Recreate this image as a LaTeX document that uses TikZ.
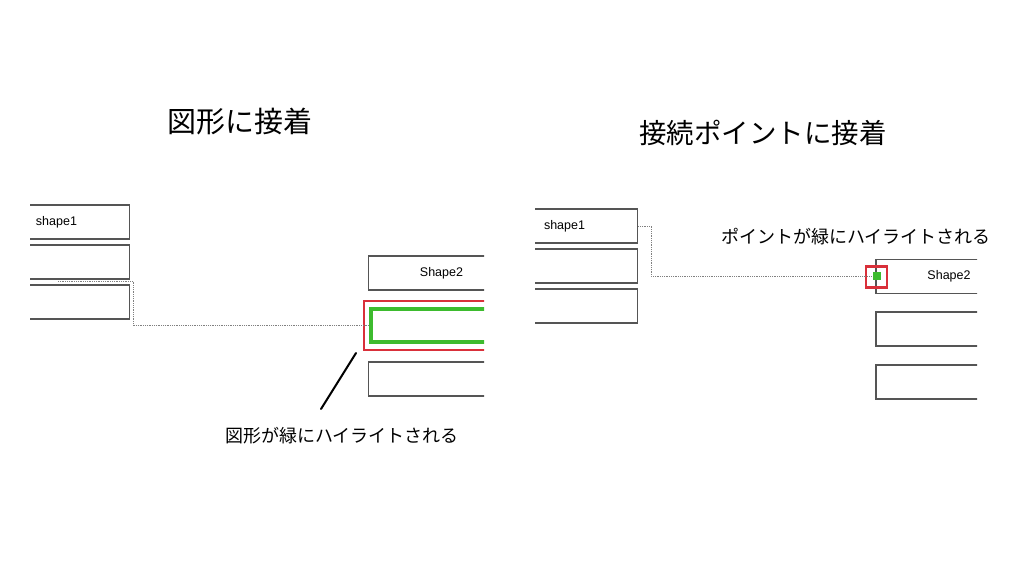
\documentclass[tikz,border=0pt]{standalone}
\usepackage{fontspec}
\setmainfont{Liberation Sans}
\newfontfamily\jp{Noto Sans CJK JP}
\definecolor{edge}{HTML}{555555}
\definecolor{hired}{HTML}{D9303A}
\definecolor{higreen}{HTML}{3DBB2E}
\tikzset{box/.style = {draw = edge, line width = 1.4pt, minimum width = 146,
                       minimum height = 34, inner sep = 0}}
\tikzset{txt/.style = {font = \fontsize{12.5}{14}\selectfont, inner sep = 0}}
\tikzset{link/.style = {densely dotted, gray, line width = 0.8pt}}
\tikzset{title/.style = {font = \jp\fontsize{29}{34}\selectfont}}
\tikzset{note/.style = {font = \jp\fontsize{18}{22}\selectfont}}
\tikzset{hilite/.style = {draw = hired, line width = 2.5pt, inner sep = 0}}

\begin{document}
\begin{tikzpicture}[x = 1pt, y = -1pt]
    \useasboundingbox (0, 0) rectangle (1024, 576);
    \node [title] (ltitle) at (240, 122) {図形に接着};
    \node [title, font = \jp\fontsize{27.5}{34}\selectfont] (rtitle) at (763, 133) {接続ポイントに接着};
    \begin{scope}
      \clip (30, 150) rectangle (484, 420);
      \node [box] (lshape1) at (56.5, 222) {};
      \node [box] (lbox2) at (56.5, 262) {};
      \node [box] (lbox3) at (56.5, 302) {};
      \node [txt] (lname1) at (lshape1) {shape1};
      \node [box] (lshape2) at (441.5, 273) {};
      \node [txt] (lname2) at (lshape2) {Shape2};
      \node [box, draw = higreen, line width = 4pt, minimum height = 33] (lgreen) at (443.5, 325.5) {};
      \node [hilite, minimum width = 160, minimum height = 49] (lred) at (444, 325.5) {};
      \node [box] (lbox4) at (441.5, 379) {};
      \coordinate (lstart) at (58, 281);
      \draw [link] (lstart) -- ++(75, 0) |- (lgreen.west);
    \end{scope}
    \coordinate (ptip) at (356, 353);
    \coordinate (ptail) at (321, 409);
    \draw [line width = 2pt, line cap = round] (ptip) -- (ptail);
    \node [note] (lnote) at (342, 436) {図形が緑にハイライトされる};
    \begin{scope}
      \clip (535, 150) rectangle (977, 420);
      \node [box] (rshape1) at (564.5, 226) {};
      \node [box] (rbox2) at (564.5, 266) {};
      \node [box] (rbox3) at (564.5, 306) {};
      \node [txt] (rname1) at (rshape1) {shape1};
      \node [box] (rshape2) at (949, 276.5) {};
      \node [txt] (rname2) at (rshape2) {Shape2};
      \node [box] (rbox4) at (949, 329) {};
      \node [box] (rbox5) at (949, 382) {};
      \node [hilite, minimum size = 21] (rred) at (876.5, 277) {};
      \node [fill = higreen, inner sep = 0, minimum size = 8] (rpoint) at (876.5, 276) {};
      \draw [link] (rshape1.east) -- ++(13, 0) |- (rpoint.west);
    \end{scope}
    \node [note] (rnote) at (856, 237) {ポイントが緑にハイライトされる};
  \end{tikzpicture}
\end{document}
